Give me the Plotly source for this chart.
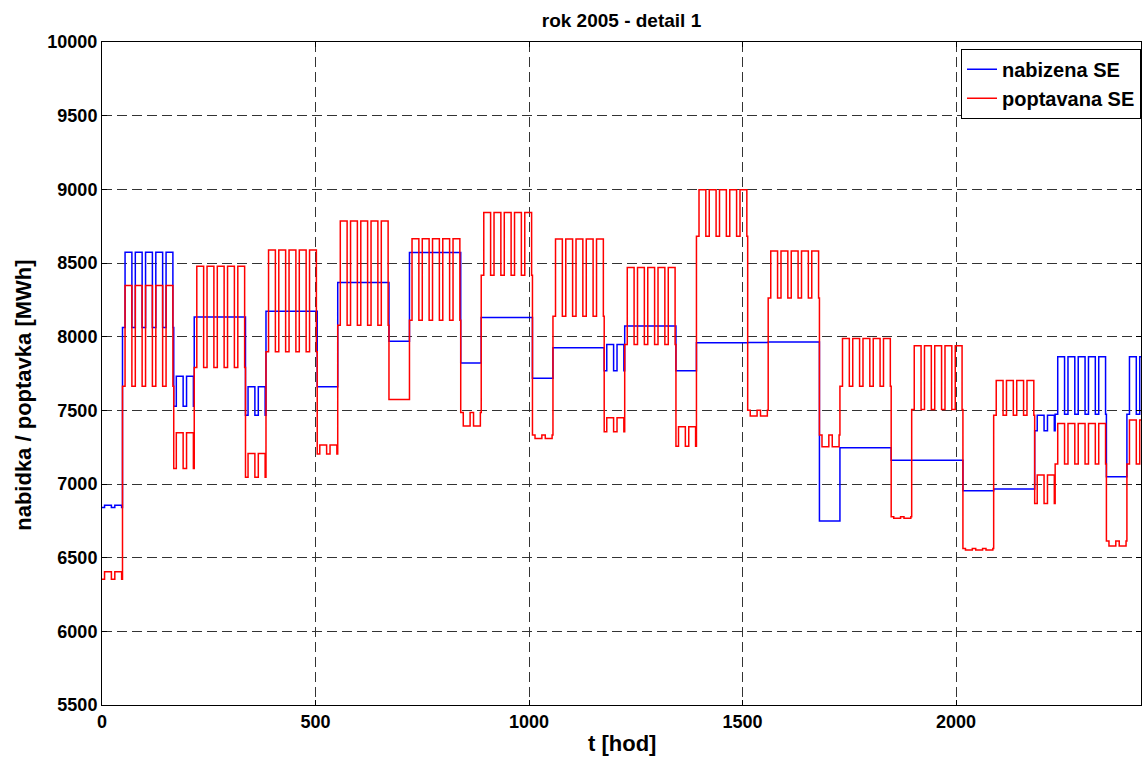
import plotly.graph_objects as go

# ---- data (hourly series, year 2005 starting Sat 1 Jan) ----
# blocks of days: start hour, end hour, and levels for day (06-22h) / night hours
block_start = [0, 48, 168, 216, 336, 384, 504, 552, 672, 720, 840, 888, 1008, 1056, 1176,
               1224, 1344, 1392, 1512, 1560, 1680, 1728, 1848, 1896, 2016, 2088, 2184, 2232,
               2352, 2400]
block_end = block_start[1:] + [2433]

red_day = [6405, 8347, 7348, 8478, 7207, 8588, 7264, 8785, 7574, 8665, 7393, 8842, 7309, 8663,
           7449, 8469, 7388, 8998, 7461, 8582, 7253, 7987, 6767, 7938, 6552, 7703, 7061, 7411,
           6579, 7434]
red_night = [6353, 7664, 7106, 7791, 7045, 7897, 7203, 8078, 7574, 8112, 7486, 8417, 7332, 8139,
             7354, 7947, 7257, 8681, 7501, 8263, 7332, 7664, 6778, 7506, 6563, 7467, 6868, 7135,
             6613, 7135]
blue_day = [6855, 8573, 7732, 8134, 7660, 8173, 7660, 8367, 7969, 8571, 7822, 8130, 7718, 7924,
            7947, 8073, 7768, 7958, 7960, 7963, 6749, 7246, 7162, 7162, 6954, 6966, 7467, 7863,
            7049, 7863]
blue_night = [6840, 8062, 7528, 8134, 7467, 8173, 7660, 8367, 7969, 8571, 7822, 8130, 7718, 7924,
              7768, 8073, 7768, 7958, 7960, 7963, 6749, 7246, 7162, 7162, 6954, 6966, 7361, 7474,
              7049, 7474]

day_hours = (6, 22)  # hours of the day carrying the "day" level

series_names = ["nabizena SE", "poptavana SE"]
x_ticks = [0, 500, 1000, 1500, 2000]
y_ticks = list(range(5500, 10001, 500))

# ---- expand the block levels to an hourly step series ----
t, red, blue = [], [], []
for s, e, rd, rn, bd, bn in zip(block_start, block_end, red_day, red_night, blue_day, blue_night):
    for h in range(s, e):
        is_day = day_hours[0] <= (h % 24) < day_hours[1]
        t.append(h)
        red.append(rd if is_day else rn)
        blue.append(bd if is_day else bn)
t.append(block_end[-1])
red.append(red[-1])
blue.append(blue[-1])

FONT = "Liberation Sans, Arial, Helvetica, sans-serif"

fig = go.Figure()
fig.add_trace(go.Scatter(x=t, y=blue, mode="lines", name=series_names[0],
                         line=dict(color="#0000FF", width=1.5, shape="hv")))
fig.add_trace(go.Scatter(x=t, y=red, mode="lines", name=series_names[1],
                         line=dict(color="#FF0000", width=1.5, shape="hv")))

axis_common = dict(
    showline=True, linecolor="black", linewidth=1, mirror="ticks",
    ticks="inside", ticklen=5, tickcolor="black",
    showgrid=True, gridcolor="#333333", gridwidth=1, griddash="10px,5px",
    zeroline=False, tickformat="d",
    tickfont=dict(family=FONT, size=18, color="black", weight="bold"),
)

fig.update_layout(
    width=1144, height=758,
    margin=dict(l=102, r=3, t=42, b=53),
    paper_bgcolor="white", plot_bgcolor="white",
    title=dict(text="rok 2005 - detail 1", x=0.5, xref="paper", xanchor="center",
               y=1 - 20.5 / 758, yref="container", yanchor="middle",
               font=dict(family=FONT, size=19, color="black", weight="bold")),
    xaxis=dict(range=[0, block_end[-1]], tickvals=x_ticks,
               ticktext=[str(v) for v in x_ticks], **axis_common),
    yaxis=dict(range=[5500, 10000], tickvals=y_ticks,
               ticktext=[str(v) for v in y_ticks], **axis_common),
    legend=dict(x=1, xanchor="right", y=0.99, yanchor="top",
                bgcolor="white", bordercolor="black", borderwidth=1,
                font=dict(family=FONT, size=20, color="black", weight="bold"),
                tracegroupgap=0, itemwidth=30),
    showlegend=True,
    annotations=[
        dict(text="nabidka / poptavka [MWh]", textangle=-90, xref="paper", yref="paper",
             x=(24 - 102.4) / 1038.3, y=1 - (395 - 41.5) / 663.5, xanchor="center",
             yanchor="middle", showarrow=False,
             font=dict(family=FONT, size=22, color="black", weight="bold")),
        dict(text="t [hod]", xref="paper", yref="paper", x=0.5, y=(705 - 744) / 663.5,
             xanchor="center", yanchor="middle", showarrow=False,
             font=dict(family=FONT, size=22, color="black", weight="bold")),
    ],
)

fig.write_html("out.html")
